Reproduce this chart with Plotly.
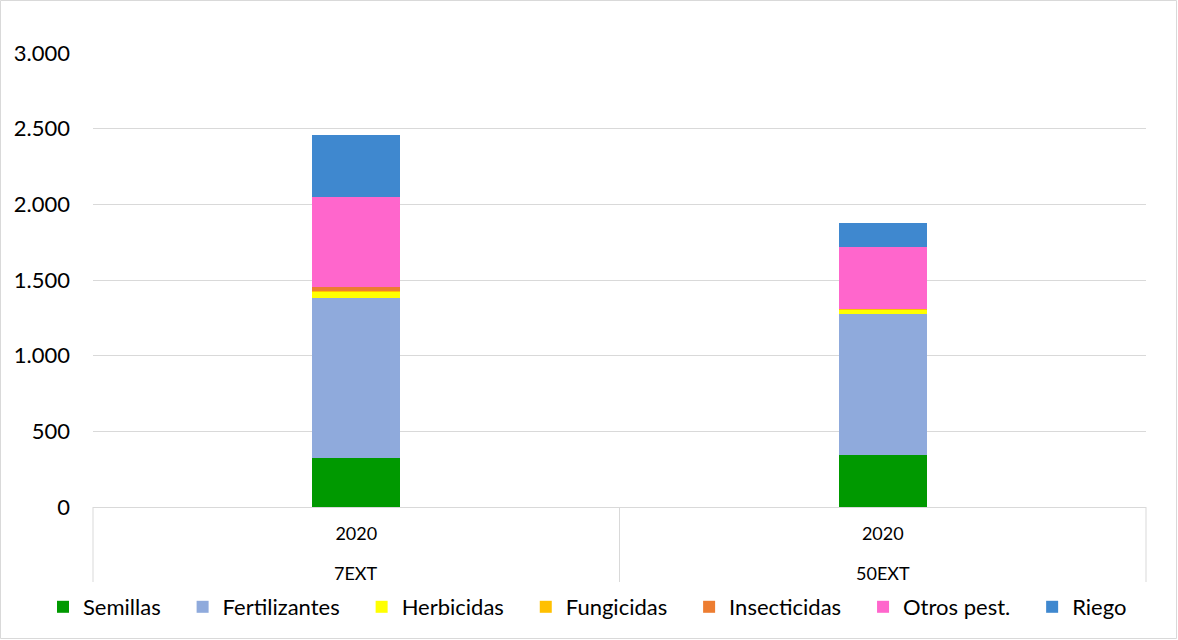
import plotly.graph_objects as go

groups = ["7EXT", "50EXT"]
years = ["2020", "2020"]
series_names = ["Semillas", "Fertilizantes", "Herbicidas", "Fungicidas", "Insecticidas", "Otros pest.", "Riego"]
semillas = [324, 344]
fertilizantes = [1057, 930]
herbicidas = [45, 33]
fungicidas = [3, 2]
insecticidas = [24, 0]
otros = [597, 411]
riego = [410, 159]
colors = ["#009900", "#8FAADC", "#FFFF00", "#FFC000", "#ED7D31", "#FF66CC", "#3F88CF"]

values = [semillas, fertilizantes, herbicidas, fungicidas, insecticidas, otros, riego]

fig = go.Figure()
n = len(series_names)
for i, (name, vals, col) in enumerate(zip(series_names, values, colors)):
    pad = "\u00a0" * 3 if i < n - 1 else ""
    fig.add_trace(go.Bar(x=groups, y=vals, name=name + pad, marker_color=col,
                         marker_line_width=0))

W, H = 1178, 640
L, R, T, B = 93, 1146, 53, 507
pw, ph = R - L, B - T
grid = "#D9D9D9"

shapes = [dict(type="rect", xref="paper", yref="paper",
               x0=(0.5 - L) / pw, x1=(W - 1.5 - L) / pw,
               y0=(B - (H - 1.5)) / ph, y1=(B - 0.5) / ph,
               line=dict(color=grid, width=1), fillcolor="rgba(0,0,0,0)")]
for xp in [0, 0.5, 1]:
    shapes.append(dict(type="line", xref="paper", yref="paper",
                       x0=xp, x1=xp, y0=0, y1=(B - 582) / ph,
                       line=dict(color=grid, width=1)))

annotations = [dict(x=g, xref="x", yref="paper", y=(B - 573) / ph, yanchor="middle",
                    text=g, showarrow=False, font=dict(size=18))
               for g in groups]

fig.update_layout(
    width=W, height=H,
    barmode="stack",
    bargap=0.833,
    separators=",.",
    font=dict(family="Lato, Calibri, sans-serif", color="#000000"),
    plot_bgcolor="white", paper_bgcolor="white",
    margin=dict(l=L, r=W - R, t=T, b=H - B, pad=0, autoexpand=False),
    yaxis=dict(range=[0, 3000], dtick=500, tickformat=",d", showgrid=True,
               gridcolor=grid, gridwidth=1, zeroline=False,
               tickfont=dict(size=22), ticks="", showline=False,
               ticklabelstandoff=22),
    xaxis=dict(showline=True, linecolor=grid, tickfont=dict(size=18),
               tickvals=groups, ticktext=years, ticks="",
               ticklabelstandoff=10),
    legend=dict(orientation="h", x=(43 - L) / pw, xanchor="left",
                y=(B - 607) / ph, yanchor="middle",
                font=dict(size=22), traceorder="normal", itemwidth=30),
    shapes=shapes,
    annotations=annotations,
)

fig.write_html("out.html", config={"displayModeBar": False},
               post_script="document.body.style.margin='0';")
